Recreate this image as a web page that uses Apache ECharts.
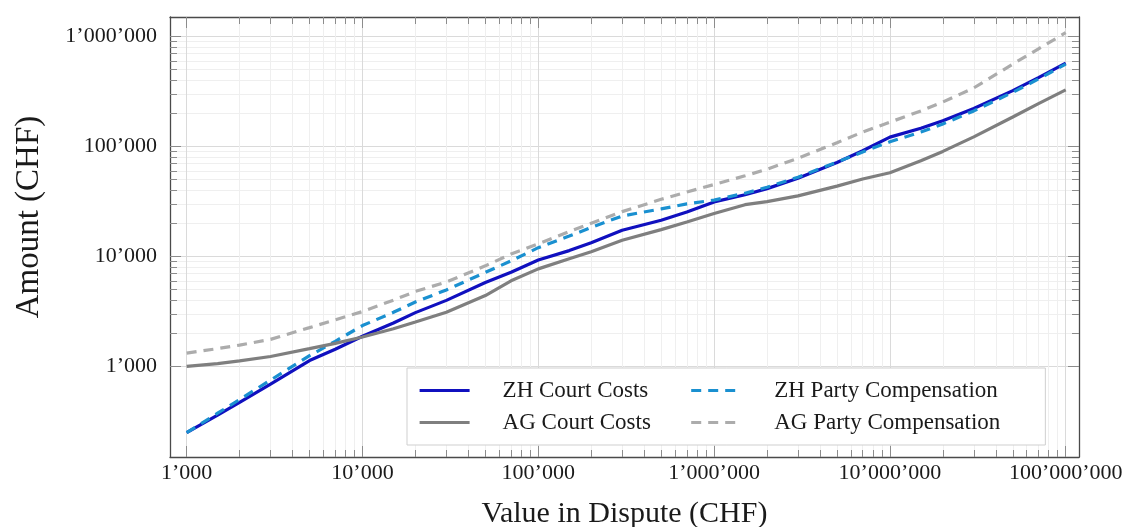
<!DOCTYPE html>
<html>
<head>
<meta charset="utf-8">
<script src="https://cdn.jsdelivr.net/npm/echarts@6/dist/echarts.min.js"></script>
<style>
html,body{margin:0;padding:0;background:#fff;}
#main{width:1129px;height:527px;}
</style>
</head>
<body>
<div id="main"></div>
<script>
// value in dispute (CHF)
var disputeValues = [1e3, 1.5e3, 2e3, 3e3, 5e3, 7e3, 1e4, 1.5e4, 2e4, 3e4, 5e4, 7e4,
  1e5, 1.5e5, 2e5, 3e5, 5e5, 7e5, 1e6, 1.5e6, 2e6, 3e6, 5e6, 7e6,
  1e7, 1.5e7, 2e7, 3e7, 5e7, 7e7, 1e8];

var zhCourt = [250, 360, 470, 690, 1130, 1430, 1880, 2480, 3080, 3980, 5780, 7180,
  9280, 11280, 13280, 17280, 21280, 25280, 31280, 36280, 41280, 51280, 71280, 91280,
  121280, 146280, 171280, 221280, 321280, 421280, 571280];

var zhParty = [250, 375, 500, 750, 1250, 1690, 2350, 3100, 3850, 4950, 7150, 9100,
  12000, 15300, 18300, 23300, 27000, 30000, 32500, 37500, 42500, 52500, 72000, 89000,
  110000, 135000, 160000, 210000, 310000, 410000, 560000];

var agCourt = [1000, 1060, 1120, 1230, 1450, 1620, 1850, 2200, 2530, 3100, 4400, 6000,
  7700, 9500, 11000, 14000, 17500, 20500, 24500, 29500, 31500, 35500, 43500, 50500,
  57600, 74000, 90000, 122000, 185000, 245000, 326000];

var agParty = [1320, 1450, 1560, 1760, 2250, 2650, 3150, 4000, 4800, 5850, 8200, 10500,
  13000, 16800, 20000, 25500, 33000, 38500, 45000, 54000, 62000, 78000, 108000, 135000,
  166000, 210000, 253000, 340000, 560000, 770000, 1080000];

var seriesNames = ['ZH Court Costs', 'ZH Party Compensation', 'AG Court Costs', 'AG Party Compensation'];

var xMajor = [1e3, 1e4, 1e5, 1e6, 1e7, 1e8];
var yMajor = [1e3, 1e4, 1e5, 1e6];

// 2..9 x 10^e between the labelled decades
function minorTicks(from, to) {
  var out = [];
  for (var e = from; e < to; e++) {
    for (var m = 2; m <= 9; m++) out.push(m * Math.pow(10, e));
  }
  return out;
}
var xMinor = minorTicks(3, 8);
var yMinor = minorTicks(3, 6);

function pairs(ys) {
  var d = [];
  for (var i = 0; i < disputeValues.length; i++) d.push([disputeValues[i], ys[i]]);
  return d;
}

function fmt(v) {
  return String(Math.round(v)).replace(/\B(?=(\d{3})+(?!\d))/g, '\u2019');
}

var serif = 'Liberation Serif';
var frameColor = '#4a4a4a';
var tickColor = '#8c8c8c';
var xMin = 804, xMax = 1.19e8;
var yMin = 150, yMax = 1.5e6;

function axis(pos, lo, hi, ticks, len, gridColor, withLine) {
  return {
    type: 'log', logBase: 10, min: lo, max: hi, position: pos,
    axisLine: {show: withLine, onZero: false, lineStyle: {color: frameColor, width: 1.3}},
    axisTick: {show: true, inside: true, length: len, customValues: ticks,
      lineStyle: {color: tickColor, width: 1}},
    axisLabel: {show: false},
    splitLine: {show: !!gridColor, lineStyle: {color: gridColor || '#fff', width: 1}},
    axisPointer: {show: false}
  };
}

var xBottom = axis('bottom', xMin, xMax, xMajor, 11, '#dadada', true);
xBottom.axisLabel = {show: true, customValues: xMajor, formatter: fmt, margin: 5,
  fontFamily: serif, fontSize: 22, color: '#1a1a1a'};
xBottom.name = 'Value in Dispute (CHF)';
xBottom.nameLocation = 'middle';
xBottom.nameGap = 42;
xBottom.nameTextStyle = {fontFamily: serif, fontSize: 30, color: '#1a1a1a'};

var yLeft = axis('left', yMin, yMax, yMajor, 11, '#dadada', true);
yLeft.axisLabel = {show: true, customValues: yMajor, formatter: fmt, margin: 13,
  fontFamily: serif, fontSize: 22, color: '#1a1a1a'};
yLeft.name = 'Amount (CHF)';
yLeft.nameLocation = 'middle';
yLeft.nameGap = 124;
yLeft.nameTextStyle = {fontFamily: serif, fontSize: 33, color: '#1a1a1a', padding: [0, 0, 0, 40]};

var myChart = echarts.init(document.getElementById('main'));

var lineColors = ['#1010bf', '#1a90d0', '#7f7f7f', '#acacac'];
var lineData = [zhCourt, zhParty, agCourt, agParty];
var dashed = [false, true, false, true];

var series = [];
for (var i = 0; i < seriesNames.length; i++) {
  series.push({
    name: seriesNames[i],
    type: 'line',
    data: pairs(lineData[i]),
    symbol: 'none',
    smooth: false,
    clip: true,
    color: lineColors[i],
    lineStyle: {color: lineColors[i], width: 3.2, type: dashed[i] ? [10, 7] : 'solid'}
  });
}

var options = {
  animation: false,
  backgroundColor: '#fff',
  grid: {left: 170, right: 50, top: 17, bottom: 70, containLabel: false, outerBoundsMode: 'none'},
  legend: {
    data: seriesNames,
    left: 407, top: 368,
    width: 640,
    orient: 'horizontal',
    itemWidth: 50, itemHeight: 14, itemGap: 9,
    padding: [11, 45, 11, 11],
    backgroundColor: '#fff',
    borderColor: '#cfcfcf', borderWidth: 1, borderRadius: 0,
    itemStyle: {opacity: 0},
    lineStyle: {width: 3.2},
    textStyle: {fontFamily: serif, fontSize: 23, color: '#1a1a1a',
      width: 178, lineHeight: 14, padding: [0, 0, 0, 28]}
  },
  xAxis: [
    axis('bottom', xMin, xMax, xMinor, 7, '#efefef', false),
    xBottom,
    axis('top', xMin, xMax, xMajor, 11, null, true),
    axis('top', xMin, xMax, xMinor, 7, null, false)
  ],
  yAxis: [
    yLeft,
    axis('left', yMin, yMax, yMinor, 7, '#efefef', false),
    axis('right', yMin, yMax, yMajor, 11, null, true),
    axis('right', yMin, yMax, yMinor, 7, null, false)
  ],
  series: series
};
// series go on the labelled axes
for (var k = 0; k < options.series.length; k++) {
  options.series[k].xAxisIndex = 1;
  options.series[k].yAxisIndex = 0;
}
myChart.setOption(options);
</script>
</body>
</html>
